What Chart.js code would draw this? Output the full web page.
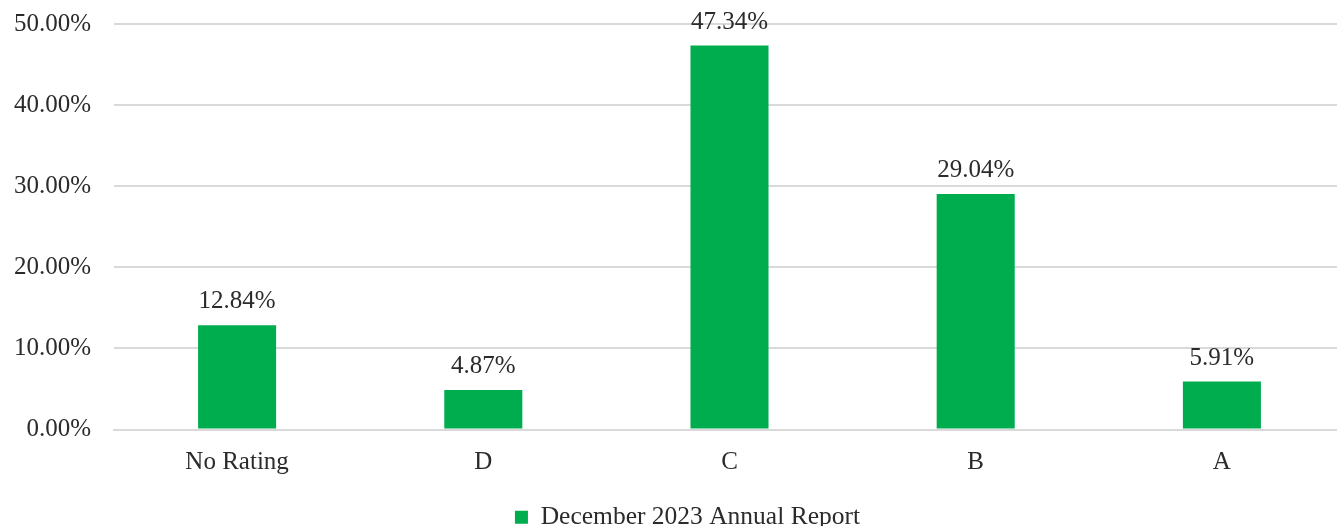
<!DOCTYPE html>
<html>
<head>
<meta charset="utf-8">
<script src="https://cdn.jsdelivr.net/npm/chart.js@4.4.1/dist/chart.umd.min.js"></script>
<style>
  html, body { margin: 0; padding: 0; background: #fff; overflow: hidden; }
  #wrap { position: relative; width: 1345px; height: 540px; }
</style>
</head>
<body>
<div id="wrap"><canvas id="grafico"></canvas></div>
<script>
// Datos
const categorias = ['No Rating', 'D', 'C', 'B', 'A'];
const valores = [12.84, 4.87, 47.34, 29.04, 5.91];
const nombreSerie = 'December 2023 Annual Report';
const ticksY = [0, 10, 20, 30, 40, 50];

const FUENTE = "'Liberation Serif', 'Times New Roman', serif";
const VERDE = '#00ad4e';
const TEXTO = '#2b2b2b';

// Etiquetas de valor encima de cada barra
const etiquetasBarras = {
    id: 'etiquetasBarras',
    afterDatasetsDraw(chart) {
        const ctx = chart.ctx;
        const meta = chart.getDatasetMeta(0);
        ctx.save();
        ctx.font = `25px ${FUENTE}`;
        ctx.fillStyle = TEXTO;
        ctx.textAlign = 'center';
        ctx.textBaseline = 'alphabetic';
        meta.data.forEach((barra, i) => {
            ctx.fillText(valores[i].toFixed(2) + '%', barra.x, barra.y - 17);
        });
        ctx.restore();
    }
};

// La leyenda del original no está centrada en el lienzo: se corre un poco a la derecha
const moverLeyenda = {
    id: 'moverLeyenda',
    afterLayout(chart) { chart.legend.left += 30; }
};

new Chart(document.getElementById('grafico'), {
    type: 'bar',
    data: {
        labels: categorias,
        datasets: [{
            label: nombreSerie,
            data: valores,
            backgroundColor: VERDE,
            borderWidth: 0,
            categoryPercentage: 1,
            barPercentage: 0.317
        }]
    },
    options: {
        responsive: true,
        maintainAspectRatio: false,
        animation: false,
        layout: { padding: { top: 24, left: 0, right: 0, bottom: 0 } },
        plugins: {
            tooltip: { enabled: false },
            legend: {
                position: 'bottom',
                labels: {
                    boxWidth: 13, boxHeight: 13, padding: 10,
                    color: TEXTO, font: { family: FUENTE, size: 25.5 }
                }
            }
        },
        scales: {
            x: {
                grid: { display: false, drawTicks: false },
                border: { display: true, color: '#d9d9d9', width: 2 },
                ticks: { color: TEXTO, font: { family: FUENTE, size: 25 }, padding: 17.5 },
                afterFit: (s) => { s.height = 65; }
            },
            y: {
                min: 0, max: 50,
                afterBuildTicks: (s) => { s.ticks = ticksY.map(v => ({ value: v })); },
                grid: { color: '#d9d9d9', lineWidth: 2, drawTicks: false },
                border: { display: false },
                ticks: {
                    color: TEXTO, font: { family: FUENTE, size: 25 }, padding: 23,
                    callback: (v) => v.toFixed(2) + '%'
                },
                afterFit: (s) => { s.width = 114; s.paddingTop = 0; s.paddingBottom = 0; }
            }
        }
    },
    plugins: [etiquetasBarras, moverLeyenda]
});
</script>
</body>
</html>
